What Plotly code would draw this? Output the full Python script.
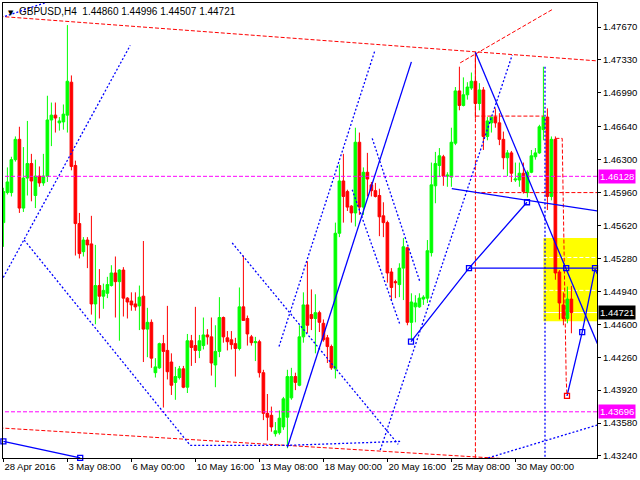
import plotly.graph_objects as go

# ---------------- data (H4 bars, index 0 = 28 Apr 2016 00:00) ----------------
opens = [1.4565, 1.4596, 1.4596, 1.4630, 1.4651, 1.4580, 1.4611, 1.4626, 1.4593, 1.4613,
         1.4606, 1.4613, 1.4671, 1.4676, 1.4668, 1.4669, 1.4676, 1.4710, 1.4624, 1.4564,
         1.4535, 1.4547, 1.4543, 1.4481, 1.4500, 1.4489, 1.4492, 1.4500, 1.4513, 1.4504,
         1.4516, 1.4487, 1.4484, 1.4481, 1.4479, 1.4489, 1.4455, 1.4462, 1.4410, 1.4415,
         1.4440, 1.4433, 1.4421, 1.4400, 1.4405, 1.4414, 1.4395, 1.4443, 1.4438, 1.4433,
         1.4438, 1.4449, 1.4447, 1.4418, 1.4432, 1.4467, 1.4446, 1.4444, 1.4440, 1.4435,
         1.4478, 1.4466, 1.4447, 1.4441, 1.4442, 1.4410, 1.4368, 1.4366, 1.4347, 1.4348,
         1.4354, 1.4364, 1.4384, 1.4406, 1.4397, 1.4447, 1.4480, 1.4470, 1.4466, 1.4472,
         1.4461, 1.4446, 1.4437, 1.4414, 1.4554, 1.4608, 1.4597, 1.4582, 1.4575, 1.4648,
         1.4581, 1.4617, 1.4604, 1.4598, 1.4593, 1.4572, 1.4565, 1.4514, 1.4504, 1.4501,
         1.4518, 1.4539, 1.4462, 1.4478, 1.4478, 1.4486, 1.4487, 1.4534, 1.4603, 1.4624,
         1.4633, 1.4613, 1.4612, 1.4647, 1.4701, 1.4686, 1.4697, 1.4704, 1.4711, 1.4688,
         1.4702, 1.4654, 1.4668, 1.4674, 1.4668, 1.4651, 1.4632, 1.4637, 1.4609, 1.4609,
         1.4616, 1.4596, 1.4617, 1.4633, 1.4637, 1.4661, 1.4674, 1.4592, 1.4651, 1.4514,
         1.4480, 1.4466, 1.44860]
highs = [1.4601, 1.4622, 1.4633, 1.4654, 1.4664, 1.4643, 1.4670, 1.4636, 1.4630, 1.4623,
         1.4636, 1.4696, 1.4689, 1.4689, 1.4674, 1.4687, 1.4769, 1.4717, 1.4629, 1.4575,
         1.4550, 1.4550, 1.4572, 1.4542, 1.4517, 1.4502, 1.4509, 1.4521, 1.4530, 1.4517,
         1.4519, 1.4488, 1.4493, 1.4493, 1.4500, 1.4546, 1.4477, 1.4465, 1.4425, 1.4441,
         1.4449, 1.4479, 1.4430, 1.4416, 1.4417, 1.4417, 1.4450, 1.4449, 1.4478, 1.4449,
         1.4467, 1.4455, 1.4467, 1.4459, 1.4488, 1.4468, 1.4453, 1.4453, 1.4446, 1.4498,
         1.4531, 1.4469, 1.4449, 1.4447, 1.4444, 1.4413, 1.4388, 1.4375, 1.4359, 1.4371,
         1.4385, 1.4413, 1.4415, 1.4410, 1.4459, 1.4493, 1.4525, 1.4496, 1.4491, 1.4474,
         1.4465, 1.4449, 1.4439, 1.4565, 1.4625, 1.4636, 1.4599, 1.4583, 1.4663, 1.4658,
         1.4622, 1.4637, 1.4607, 1.4606, 1.4600, 1.4586, 1.4567, 1.4518, 1.4506, 1.4523,
         1.4549, 1.4540, 1.4492, 1.4490, 1.4492, 1.4490, 1.4547, 1.4627, 1.4638, 1.4642,
         1.4635, 1.4617, 1.4663, 1.4705, 1.4726, 1.4715, 1.4710, 1.4720, 1.4741, 1.4709,
         1.4705, 1.4674, 1.4674, 1.4683, 1.4678, 1.4659, 1.4640, 1.4639, 1.4627, 1.4627,
         1.4627, 1.4619, 1.4640, 1.4642, 1.4666, 1.4726, 1.4683, 1.4654, 1.4654, 1.4516,
         1.4493, 1.4499, 1.44996]
lows = [1.4540, 1.4594, 1.4592, 1.4628, 1.4575, 1.4576, 1.4593, 1.4587, 1.4580, 1.4602,
        1.4603, 1.4607, 1.4644, 1.4658, 1.4660, 1.4661, 1.4658, 1.4619, 1.4531, 1.4528,
        1.4530, 1.4518, 1.4470, 1.4460, 1.4466, 1.4476, 1.4487, 1.4499, 1.4467, 1.4443,
        1.4468, 1.4466, 1.4474, 1.4474, 1.4454, 1.4421, 1.4426, 1.4415, 1.4405, 1.4414,
        1.4374, 1.4403, 1.4387, 1.4382, 1.4403, 1.4394, 1.4389, 1.4417, 1.4420, 1.4425,
        1.4434, 1.4439, 1.4407, 1.4395, 1.4426, 1.4441, 1.4433, 1.4434, 1.4406, 1.4433,
        1.4464, 1.4438, 1.4438, 1.4422, 1.4405, 1.4361, 1.4340, 1.4349, 1.4344, 1.4346,
        1.4351, 1.4332, 1.4382, 1.4392, 1.4396, 1.4441, 1.4451, 1.4454, 1.4430, 1.4452,
        1.4442, 1.4420, 1.4413, 1.4404, 1.4550, 1.4565, 1.4577, 1.4565, 1.4561, 1.4573,
        1.4573, 1.4592, 1.4592, 1.4591, 1.4551, 1.4550, 1.4503, 1.4485, 1.4487, 1.4488,
        1.4485, 1.4459, 1.4444, 1.4462, 1.4477, 1.4480, 1.4482, 1.4530, 1.4585, 1.4612,
        1.4603, 1.4602, 1.4602, 1.4645, 1.4681, 1.4685, 1.4692, 1.4702, 1.4673, 1.4681,
        1.4640, 1.4650, 1.4658, 1.4663, 1.4645, 1.4620, 1.4613, 1.4607, 1.4607, 1.4602,
        1.4595, 1.4591, 1.4616, 1.4630, 1.4636, 1.4650, 1.4578, 1.4588, 1.4506, 1.4465,
        1.4459, 1.4461, 1.44507]
closes = [1.4597, 1.4607, 1.4630, 1.4651, 1.4580, 1.4611, 1.4626, 1.4608, 1.4613, 1.4606,
          1.4613, 1.4671, 1.4676, 1.4673, 1.4670, 1.4677, 1.4711, 1.4623, 1.4564, 1.4533,
          1.4547, 1.4542, 1.4481, 1.4500, 1.4489, 1.4495, 1.4501, 1.4513, 1.4504, 1.4516,
          1.4487, 1.4483, 1.4480, 1.4478, 1.4488, 1.4455, 1.4462, 1.4425, 1.4416, 1.4440,
          1.4432, 1.4411, 1.4397, 1.4406, 1.4414, 1.4395, 1.4443, 1.4436, 1.4433, 1.4443,
          1.4449, 1.4447, 1.4420, 1.4432, 1.4467, 1.4447, 1.4442, 1.4439, 1.4435, 1.4478,
          1.4464, 1.4450, 1.4441, 1.4442, 1.4410, 1.4368, 1.4364, 1.4354, 1.4350, 1.4363,
          1.4383, 1.4406, 1.4406, 1.4400, 1.4447, 1.4480, 1.4459, 1.4466, 1.4472, 1.4462,
          1.4444, 1.4437, 1.4415, 1.4554, 1.4608, 1.4592, 1.4581, 1.4575, 1.4648, 1.4581,
          1.4617, 1.4610, 1.4598, 1.4592, 1.4571, 1.4565, 1.4513, 1.4498, 1.4503, 1.4518,
          1.4540, 1.4462, 1.4483, 1.4482, 1.4487, 1.4488, 1.4536, 1.4604, 1.4626, 1.4634,
          1.4613, 1.4614, 1.4648, 1.4701, 1.4686, 1.4697, 1.4705, 1.4711, 1.4688, 1.4702,
          1.4654, 1.4670, 1.4674, 1.4668, 1.4651, 1.4632, 1.4637, 1.4616, 1.4610, 1.4616,
          1.4597, 1.4617, 1.4634, 1.4637, 1.4664, 1.4674, 1.4592, 1.4651, 1.4513, 1.4482,
          1.4466, 1.4486, 1.44721]
bars = list(range(len(opens)))

x_tick_bars = [0, 16, 32, 48, 64, 80, 96, 112, 128]
x_tick_labels = ["28 Apr 2016", "3 May 08:00", "6 May 00:00", "10 May 16:00", "13 May 08:00",
                 "18 May 00:00", "20 May 16:00", "25 May 08:00", "30 May 00:00"]
y_ticks = [1.47670, 1.47330, 1.46990, 1.46640, 1.46300, 1.45960, 1.45620, 1.45280,
           1.44940, 1.44600, 1.44260, 1.43920, 1.43580, 1.43240]
x_range = [-0.1, 148.4]
y_range = [1.43219, 1.47918]

symbol = "GBPUSD,H4"
magenta_levels = [1.46128, 1.43696]

# analyst drawings (bar index, price)
red_dashed = [
    ([-1, 148.5], [1.4778, 1.4732]),
    ([-1, 130], [1.4353, 1.4320]),
    ([114.2, 137.2], [1.4730, 1.4785]),
    ([118, 118], [1.4741, 1.4310]),
    ([118, 135], [1.4675, 1.4675]),
    ([118, 148.5], [1.4596, 1.4596]),
    ([138, 139.7, 140.7, 140.9], [1.4652, 1.4652, 1.4403, 1.4386]),
]
blue_solid = [
    ([71, 102], [1.4333, 1.4731]),
    ([118, 148.5], [1.4741, 1.4440]),
    ([140.9, 144.7, 147.9, 148.5], [1.4386, 1.4452, 1.4517, 1.4512]),
    ([116.4, 148.5], [1.4518, 1.4518]),
    ([101.9, 116.4, 130.9], [1.4442, 1.4518, 1.4586]),
    ([112.1, 148.5], [1.4600, 1.4577]),
    ([0, 19.2], [1.4339, 1.4322]),
]
blue_dashed = [
    ([0.4, 10.4], [1.4778, 1.4792]),
    ([-1, 31.7], [1.4501, 1.4748]),
    ([5.2, 46.7, 71.2, 99.2], [1.4547, 1.4335, 1.4335, 1.4339]),
    ([57.2, 98.7], [1.4544, 1.4336]),
    ([68.9, 92.9], [1.4437, 1.4743]),
    ([92.2, 104.2], [1.4652, 1.4503]),
    ([87.2, 99.2], [1.4599, 1.4459]),
    ([94.2, 127.2], [1.4330, 1.4738]),
    ([121.2, 148.5], [1.4322, 1.4356]),
    ([135.4, 135.4], [1.4726, 1.4310]),
]
blue_squares = ([0, 19.2, 101.9, 116.4, 130.9, 140.7, 144.7, 147.9],
                [1.4339, 1.4322, 1.4442, 1.4518, 1.4586, 1.4518, 1.4452, 1.4518])
red_square = ([140.9], [1.4386])

zone_x = [135.0, 148.5]
zone_y = [1.4463, 1.4549]
zone_white_dashed = [1.4529, 1.4495]

# ---------------- figure ----------------
fig = go.Figure()

fig.add_shape(type="rect", x0=zone_x[0], x1=zone_x[1], y0=zone_y[0], y1=zone_y[1],
              fillcolor="#ffff00", line=dict(width=0), layer="below")
for lv in zone_white_dashed:
    fig.add_shape(type="line", x0=zone_x[0], x1=zone_x[1], y0=lv, y1=lv,
                  line=dict(color="white", width=1, dash="4px,2px"), layer="below")
fig.add_shape(type="line", x0=zone_x[0], x1=zone_x[1], y0=closes[-1], y1=closes[-1],
              line=dict(color="white", width=1), layer="below")

fig.add_trace(go.Candlestick(
    x=bars, open=opens, high=highs, low=lows, close=closes,
    increasing=dict(line=dict(color="#00ff00", width=1), fillcolor="#00ff00"),
    decreasing=dict(line=dict(color="#ff0000", width=1), fillcolor="#ff0000"),
    whiskerwidth=0, hoverinfo="skip", showlegend=False))

for lv in magenta_levels:
    fig.add_trace(go.Scatter(x=[x_range[0] - 1, x_range[1] + 1], y=[lv, lv], mode="lines",
                             line=dict(color="#ff00ff", width=1, dash="4px,2px"),
                             hoverinfo="skip", showlegend=False))

for xs, ys in red_dashed:
    fig.add_trace(go.Scatter(x=xs, y=ys, mode="lines",
                             line=dict(color="#ff0000", width=1, dash="4px,2px"),
                             hoverinfo="skip", showlegend=False))
for xs, ys in blue_dashed:
    fig.add_trace(go.Scatter(x=xs, y=ys, mode="lines",
                             line=dict(color="#0000ff", width=1.3, dash="2px,2px"),
                             hoverinfo="skip", showlegend=False))
for xs, ys in blue_solid:
    fig.add_trace(go.Scatter(x=xs, y=ys, mode="lines",
                             line=dict(color="#0000ff", width=1.3),
                             hoverinfo="skip", showlegend=False))

fig.add_trace(go.Scatter(x=blue_squares[0], y=blue_squares[1], mode="markers",
                         marker=dict(symbol="square-open", size=5, color="#0000ff",
                                     line=dict(width=1.3, color="#0000ff")),
                         hoverinfo="skip", showlegend=False, cliponaxis=False))
fig.add_trace(go.Scatter(x=red_square[0], y=red_square[1], mode="markers",
                         marker=dict(symbol="square-open", size=5, color="#ff0000",
                                     line=dict(width=1.3, color="#ff0000")),
                         hoverinfo="skip", showlegend=False))

# title
fig.add_annotation(xref="paper", yref="paper", x=0, y=1, xanchor="left", yanchor="top",
                   xshift=3, yshift=-4, text="▼", showarrow=False,
                   font=dict(family="DejaVu Sans", size=7, color="black"))
fig.add_annotation(xref="paper", yref="paper", x=0, y=1, xanchor="left", yanchor="top",
                   xshift=14, yshift=-1,
                   text=f"{symbol}  {opens[-1]:.5f} {highs[-1]:.5f} {lows[-1]:.5f} {closes[-1]:.5f}",
                   showarrow=False,
                   font=dict(family="Liberation Sans", size=10, color="black"))

# right-side price labels
for lv in magenta_levels:
    fig.add_annotation(xref="paper", yref="y", x=1, y=lv, xanchor="left", yanchor="middle",
                       xshift=1, text=f"{lv:.5f}", showarrow=False, bgcolor="#ff00ff",
                       borderpad=1, font=dict(family="Liberation Sans", size=9.5, color="white"))
fig.add_annotation(xref="paper", yref="y", x=1, y=closes[-1], xanchor="left", yanchor="middle",
                   xshift=1, text=f"{closes[-1]:.5f}", showarrow=False, bgcolor="black",
                   borderpad=1, font=dict(family="Liberation Sans", size=9.5, color="white"))

fig.update_layout(
    width=640, height=480,
    margin=dict(l=3, r=43, t=3, b=22),
    paper_bgcolor="white", plot_bgcolor="white",
    showlegend=False,
    boxgap=0.05,
    xaxis=dict(range=x_range, rangeslider=dict(visible=False), showgrid=False, zeroline=False,
               showline=True, mirror=True, linecolor="black", linewidth=1,
               tickmode="array", tickvals=x_tick_bars, ticktext=x_tick_labels,
               ticks="outside", ticklen=3, tickcolor="black", tickangle=0,
               ticklabelposition="outside right",
               tickfont=dict(family="Liberation Sans", size=9.5, color="black")),
    yaxis=dict(range=y_range, side="right", showgrid=False, zeroline=False,
               showline=True, mirror=True, linecolor="black", linewidth=1,
               tickmode="array", tickvals=y_ticks, ticktext=[f"{v:.5f}" for v in y_ticks],
               ticks="outside", ticklen=3, tickcolor="black",
               tickfont=dict(family="Liberation Sans", size=9.5, color="black")),
)

fig.write_html("out.html", config={"displayModeBar": False},
               post_script="document.body.style.margin='0';document.body.style.overflow='hidden';")
